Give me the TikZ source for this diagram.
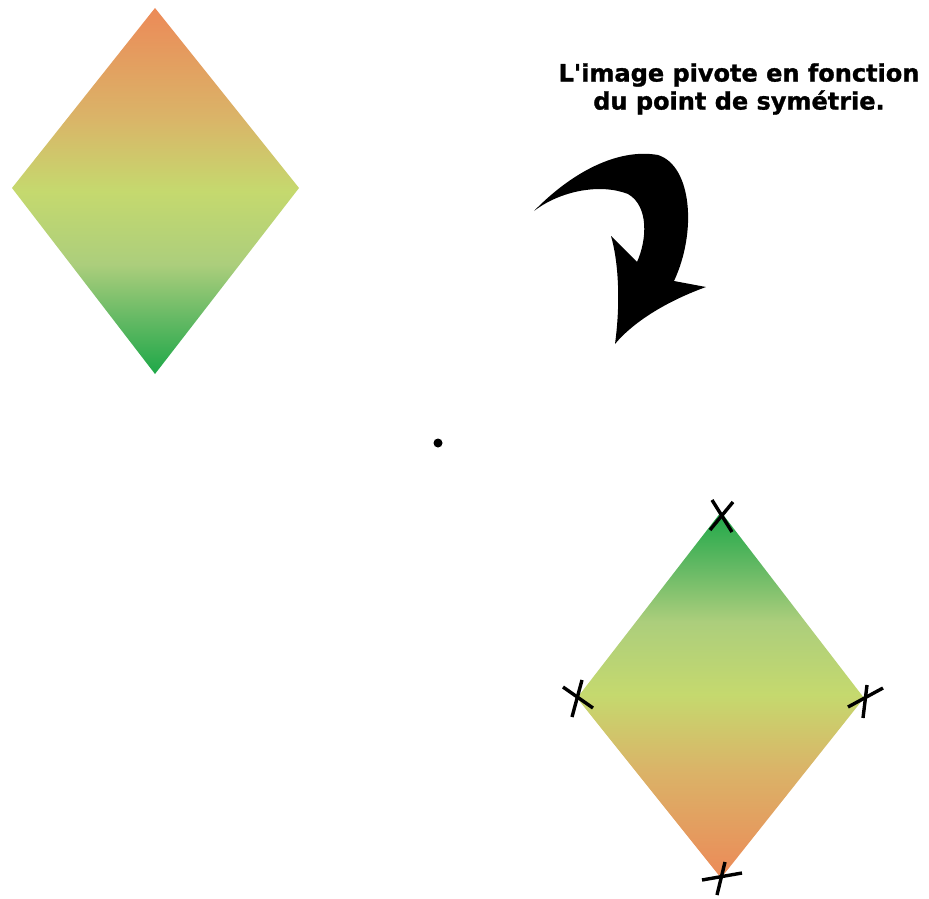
\documentclass[tikz,border=0pt]{standalone}
\usepackage{fontspec}
\usepackage{tikz}
\newfontfamily\verdana{DejaVu Sans}[BoldFeatures={FakeBold=1.2}]
\definecolor{orangeL}{RGB}{236,138,88}
\definecolor{ocreL}{RGB}{218,180,104}
\definecolor{jauneL}{RGB}{197,217,110}
\definecolor{vertclairL}{RGB}{172,206,124}
\definecolor{vertmoyenL}{RGB}{100,185,100}
\definecolor{vertL}{RGB}{30,168,72}
\pgfdeclareverticalshading{losange}{100bp}{color(0bp)=(vertL); color(25bp)=(vertL); color(32.5bp)=(vertmoyenL); color(40bp)=(vertclairL); color(50bp)=(jauneL); color(60bp)=(ocreL); color(75bp)=(orangeL); color(100bp)=(orangeL)}
\tikzset{croix/.style={line width=3.4pt}}

\begin{document}
\begin{tikzpicture}[x=1pt,y=-1pt]
    \useasboundingbox (0,0) rectangle (929,899);
    % --- LOSANGE DE DEPART (HAUT) ---
    \def\losangeA{ (155,8) -- (299,188) -- (155,374) -- (12,188) -- cycle};
    \shade[shading=losange] \losangeA;
    % --- POINT DE SYMETRIE ---
    \coordinate (centre) at (438,443);
    \fill[black] (centre) circle (4.5);
    % --- LOSANGE IMAGE (BAS) ---
    \def\losangeB{ (721,512) -- (864,698) -- (721,878) -- (577,698) -- cycle};
    \shade[shading=losange,shading angle=180] \losangeB;
    \draw[croix] (710,530) -- (733,502);
    \draw[croix] (712,500) -- (732,532);
    \draw[croix] (563,687) -- (593,708);
    \draw[croix] (572,717) -- (582,680);
    \draw[croix] (848,707) -- (883,688);
    \draw[croix] (863,718) -- (867,685);
    \draw[croix] (702,880) -- (742,873);
    \draw[croix] (717,895) -- (725,862);
    % --- FLECHE COURBE ---
    \fill[black] (534,211) .. controls (572,172) and (618,148) .. (658,155)
        .. controls (692,166) and (697,232) .. (674,281)
        -- (706,287)
        .. controls (670,300) and (635,320) .. (615,344)
        .. controls (621,300) and (618,260) .. (611,236)
        -- (637,262)
        .. controls (647,240) and (649,206) .. (628,194)
        .. controls (600,183) and (560,191) .. (534,211) -- cycle;
    \node[align=center,font=\verdana\bfseries\fontsize{24}{28}\selectfont] (titre) at (739,89) {L'image pivote en fonction\\du point de symétrie.};
\end{tikzpicture}
\end{document}
